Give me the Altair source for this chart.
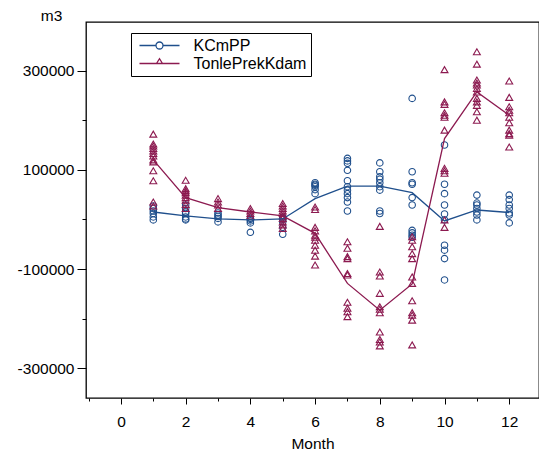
import altair as alt
import pandas as pd

# ---- data (values in m3) ----
months = list(range(1, 13))
series_names = ["KCmPP", "TonlePrekKdam"]
series_colors = ["#1f4f8c", "#8c1a50"]

kc_points = {
    1: [27000, 22000, 17000, 12000, 5000, -1000],
    2: [29000, 22000, 15000, 12000, 5000, 1000, -1000],
    3: [13000, 9000, 6000, 2000, -5000],
    4: [2000, 0, -3000, -7000, -26000],
    5: [4000, 2000, 0, -5000, -16000, -30000],
    6: [74000, 71000, 69000, 66000, 60000, 52000],
    7: [123000, 118000, 113000, 99000, 78000, 66000, 59000, 52000, 44000, 35000, 17000],
    8: [114000, 96000, 86000, 81000, 74000, 66000, 59000, 17000, 12000],
    9: [244000, 96000, 74000, 71000, 44000, 29000, -22000, -27000, -32000, -36000],
    10: [150000, 71000, 52000, 29000, 11000, -1000, -52000, -62000, -79000, -122000],
    11: [49000, 33000, 29000, 22000, 15000, 9000, -1000],
    12: [49000, 40000, 29000, 22000, 13000, 9000, -7000],
}
tpk_points = {
    1: [172000, 152000, 148000, 143000, 138000, 133000, 128000, 120000, 116000, 98000, 78000, 35000, 27000],
    2: [79000, 62000, 58000, 54000, 49000, 44000, 39000, 30000, 22000],
    3: [42000, 35000, 29000, 22000],
    4: [22000, 17000, 12000, 7000],
    5: [32000, 27000, 22000, 17000, 12000, 7000, 2000, -5000, -11000, -18000],
    6: [25000, 20000, -16000, -23000, -32000, -36000, -42000, -52000, -62000, -74000, -92000],
    7: [-45000, -58000, -75000, -79000, -109000, -112000, -167000, -179000, -186000, -196000],
    8: [-14000, -106000, -114000, -149000, -176000, -181000, -188000, -227000, -242000, -247000, -255000],
    9: [-35000, -42000, -55000, -69000, -79000, -116000, -129000, -164000, -188000, -193000, -203000, -253000],
    10: [302000, 237000, 232000, 215000, 210000, 206000, 180000, 103000, 98000, 93000, -1000, -16000],
    11: [338000, 313000, 281000, 275000, 271000, 264000, 257000, 244000, 237000, 230000, 217000, 200000],
    12: [279000, 246000, 227000, 220000, 215000, 206000, 195000, 180000, 173000, 170000, 146000],
}
kc_mean = [15000, 7000, 1000, -1000, 1000, 42000, 67000, 67000, 54000, -3000, 19000, 14000]
tpk_mean = [120000, 44000, 24000, 15000, 7000, -28000, -129000, -183000, -130000, 163000, 257000, 210000]

x_ticks = list(range(-1, 13))
y_ticks = [-300000, -200000, -100000, 0, 100000, 200000, 300000]

# ---- tables ----
rows = []
for name, pts in zip(series_names, [kc_points, tpk_points]):
    for m, vals in pts.items():
        for v in vals:
            rows.append({"Month": m, "value": v, "series": name})
df = pd.DataFrame(rows)

mean_rows = []
for name, means in zip(series_names, [kc_mean, tpk_mean]):
    for m, v in zip(months, means):
        mean_rows.append({"Month": m, "value": v, "series": name})
df_mean = pd.DataFrame(mean_rows)

FONT = "Liberation Sans"
FS = 15.5
LFS = 16

x_enc = alt.X(
    "Month:Q",
    scale=alt.Scale(domain=[-1.08, 12.92], nice=False, zero=False),
    axis=alt.Axis(
        values=x_ticks,
        labelExpr="datum.value % 2 == 0 ? datum.label : ''",
        domain=False,
        grid=False,
        tickColor="black",
        tickSize={"condition": {"test": "datum.value % 2 == 0", "value": 6}, "value": 3},
        labelPadding=10,
        labelColor="black",
        labelFont=FONT,
        labelFontSize=FS,
        title="Month",
        titleFont=FONT,
        titleFontSize=FS,
        titleFontWeight="normal",
        titleColor="black",
        titleBaseline="alphabetic",
        titleY=50,
    ),
)
y_enc = alt.Y(
    "value:Q",
    scale=alt.Scale(domain=[-360000, 398000], nice=False, zero=False),
    axis=alt.Axis(
        values=y_ticks,
        labelExpr="abs(datum.value) % 200000 == 100000 ? datum.value : ''",
        format="d",
        domain=False,
        grid=False,
        tickColor="black",
        tickSize={"condition": {"test": "abs(datum.value) % 200000 == 100000", "value": 9}, "value": 4},
        labelPadding=3,
        labelColor="black",
        labelFont=FONT,
        labelFontSize=FS,
        title="m3",
        titleFont=FONT,
        titleFontSize=FS,
        titleFontWeight="normal",
        titleColor="black",
        titleAngle=0,
        titleAlign="center",
        titleBaseline="alphabetic",
        titleX=-35,
        titleY=-1.5,
    ),
)

def series_points(name, color, shape, size):
    return (
        alt.Chart(df)
        .transform_filter(alt.datum.series == name)
        .mark_point(shape=shape, filled=False, size=size, strokeWidth=1.1, opacity=1, color=color)
        .encode(x=x_enc, y=y_enc)
    )

def series_line(name, color):
    return (
        alt.Chart(df_mean)
        .transform_filter(alt.datum.series == name)
        .mark_line(strokeWidth=1.3, color=color)
        .encode(x=x_enc, y=y_enc)
    )

kc_pts = series_points("KCmPP", series_colors[0], "circle", 42)
tpk_pts = series_points("TonlePrekKdam", series_colors[1], "triangle-up", 48)
kc_line = series_line("KCmPP", series_colors[0])
tpk_line = series_line("TonlePrekKdam", series_colors[1])

circle_line = "M-4,0L-0.7,0M0.7,0L4,0M-0.7,0A0.7,0.7,0,1,0,0.7,0A0.7,0.7,0,1,0,-0.7,0"
tri_line = "M-4,0L4,0M-0.6,0L0,-0.95L0.6,0Z"

legend_def = alt.Legend(
    title=None,
    orient="none",
    legendX=45,
    legendY=11,
    direction="vertical",
    strokeColor="black",
    fillColor="white",
    padding=4.5,
    symbolSize=100,
    symbolStrokeWidth=1.3,
    symbolOffset=16,
    labelOffset=26,
    labelFont=FONT,
    labelFontSize=LFS,
    labelColor="black",
    rowPadding=2,
    symbolOpacity=1,
)
legend_layer = (
    alt.Chart(df)
    .transform_filter("false")
    .mark_point(filled=False)
    .encode(
        x=x_enc,
        y=y_enc,
        color=alt.Color("series:N", scale=alt.Scale(domain=series_names, range=series_colors), legend=legend_def),
        shape=alt.Shape("series:N", scale=alt.Scale(domain=series_names, range=[circle_line, tri_line]), legend=legend_def),
    )
)

chart = (
    alt.layer(kc_pts, tpk_pts, kc_line, tpk_line, legend_layer)
    .properties(
        width=453,
        height=376,
        autosize=alt.AutoSizeParams(type="none"),
        padding={"left": 78, "top": 14, "right": 0, "bottom": 53},
        background="white",
    )
    .configure_view(stroke="black", strokeWidth=1.3)
)

chart.save("out.html", embed_options={"renderer": "svg", "actions": False})
